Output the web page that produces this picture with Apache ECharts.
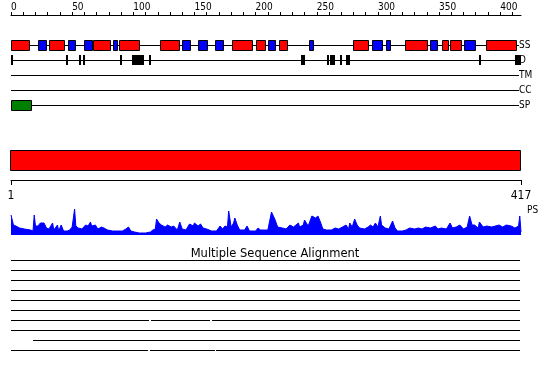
<!DOCTYPE html>
<html><head><meta charset="utf-8">
<script src="https://cdn.jsdelivr.net/npm/echarts@6/dist/echarts.min.js"></script>
<style>html,body{margin:0;padding:0;background:#fff}#c{width:550px;height:380px}</style>
</head><body><div id="c"></div>
<script>
// ---- data ----
const seqLength = 417;
const rulerTicks = [0,10,20,30,40,50,60,70,80,90,100,110,120,130,140,150,160,170,180,190,200,210,220,230,240,250,260,270,280,290,300,310,320,330,340,350,360,370,380,390,400,410];
const rulerLabels = [0,50,100,150,200,250,300,350,400];
const trackNames = ['SS','D','TM','CC','SP'];
const helices = [[0,15],[31,43],[67,81],[88,105],[122,137],[181,197],[200,208],[219,226],[280,292],[322,340],[352,357],[359,368],[388,413]];
const strands = [[22,29],[47,52],[60,66],[83,87],[140,146],[153,160],[167,173],[210,216],[244,247],[295,303],[307,310],[343,348],[370,379]];
const disorder = [[0,2],[45,47],[56,57],[59,60],[89,91],[99,109],[113,114],[237,240],[258,259],[261,265],[269,270],[274,277],[383,384],[412,417]];
const signalPeptide = [[0,16]];
const domainSpan = [[1,417]];
const bottomLabels = [1,417];
const psPos = [0,2,4,7,11,16,18,19,20,22,24,25,27,29,31,34,35,38,39,41,43,46,48,50,52,53,55,58,61,63,65,66,69,71,74,76,79,83,87,91,94,96,98,101,105,110,114,116,118,119,121,123,126,128,131,133,136,138,140,143,146,149,150,153,155,157,160,164,168,171,173,175,177,178,180,182,183,185,187,191,193,195,198,200,202,204,208,210,213,216,218,222,225,228,231,233,235,236,239,240,243,246,249,251,253,255,258,262,265,268,271,274,276,277,279,281,283,285,289,292,294,296,298,300,302,303,306,309,312,314,316,320,323,326,330,333,336,339,343,347,349,352,356,359,361,364,367,370,373,375,377,379,382,383,386,389,393,396,399,402,405,409,412,415,416,417];
const psVal = [20,10,9,7,6,5,4,20,9,9,12,13,12,7,6,12,5,10,4,10,4,4,5,8,26,9,7,6,10,9,13,9,10,6,8,7,5,4,4,4,6,8,4,3,2,2,3,5,6,16,12,10,8,10,8,9,5,13,6,5,11,9,12,9,11,7,6,4,4,9,6,9,8,24,8,12,17,10,5,5,9,4,4,4,7,5,5,5,23,15,8,7,6,10,8,10,12,8,10,15,9,19,17,19,13,6,5,5,7,6,8,10,6,12,8,16,10,7,6,8,10,8,12,8,19,10,7,6,14,7,4,4,5,7,6,7,6,8,7,9,6,7,6,12,7,8,10,6,8,19,10,10,7,13,8,9,8,9,10,8,10,9,7,9,19,3];
const msaRows = [0,1,2,3,4,5,6,7,8,9];
const msaSegments = [[0,0,416],[1,0,416],[2,0,416],[3,0,416],[4,0,416],[5,0,416],[6,0,113],[6,114.5,163],[6,164.5,416],[7,0,416],[8,18,416],[9,0,112],[9,113.5,166.5],[9,168,416]];

// ---- chart ----
const chart = echarts.init(document.getElementById('c'), null, {renderer: 'canvas'});
const FONT = 'DejaVu Sans';
const SMALL = '"DejaVu Sans Condensed", "DejaVu Sans"';
function boxRenderer(color, hPx, minW, stroke) {
  return function (params, api) {
    const p0 = api.coord([api.value(0), api.value(2)]);
    const p1 = api.coord([api.value(1), api.value(2)]);
    let x0 = Math.round(p0[0]), x1 = Math.round(p1[0]);
    if (x1 - x0 < minW) x1 = x0 + minW;
    const y0 = Math.round(p0[1] - hPx / 2);
    const o = stroke ? 0.5 : 0;
    return {type: 'rect', shape: {x: x0 + o, y: y0 + o, width: x1 - x0, height: hPx},
      style: {fill: color, stroke: stroke ? '#000' : null, lineWidth: 1}};
  };
}
function lineRenderer(params, api) {
  const p0 = api.coord([api.value(0), api.value(2)]);
  const p1 = api.coord([api.value(1), api.value(2)]);
  const y = Math.round(p0[1] - 0.5) + 0.5;
  return {type: 'line', shape: {x1: Math.round(p0[0]), y1: y, x2: Math.round(p1[0]), y2: y},
    style: {stroke: '#000', lineWidth: 1}};
}
const hiddenY = {show: false, splitLine: {show: false}};
const gridX = {left: 11, width: 510};
const option = {
  animation: false,
  backgroundColor: '#fff',
  textStyle: {fontFamily: FONT},
  title: {text: 'Multiple Sequence Alignment', left: 'center', top: 243,
    textStyle: {fontSize: 11.5, fontWeight: 'normal', color: '#000', fontFamily: FONT}},
  graphic: [{type: 'text', left: 527, top: 205, style: {text: 'PS', fontSize: 10, fill: '#000', fontFamily: SMALL}}],
  grid: [
    Object.assign({top: 15, height: 10}, gridX),
    Object.assign({top: 37.5, height: 75}, gridX),
    Object.assign({top: 150, height: 20}, gridX),
    Object.assign({top: 205, height: 30}, gridX),
    Object.assign({top: 255.5, height: 100}, gridX)
  ],
  xAxis: [
    {gridIndex: 0, type: 'value', position: 'top', min: 0, max: seqLength,
      axisLine: {show: true, onZero: false, lineStyle: {color: '#000', width: 1}},
      axisTick: {show: true, length: 3, customValues: rulerTicks, lineStyle: {color: '#000'}},
      axisLabel: {customValues: rulerLabels, align: 'left', margin: 3, fontSize: 10, color: '#000', fontFamily: SMALL},
      splitLine: {show: false}},
    {gridIndex: 1, type: 'value', min: 0, max: seqLength, show: false, splitLine: {show: false}},
    {gridIndex: 2, type: 'value', position: 'bottom', offset: 10, min: 1, max: seqLength,
      axisLine: {show: true, onZero: false, lineStyle: {color: '#000', width: 1}},
      axisTick: {show: true, length: 5, customValues: bottomLabels, lineStyle: {color: '#000'}},
      axisLabel: {customValues: bottomLabels, margin: 10, fontSize: 12, color: '#000', fontFamily: SMALL},
      splitLine: {show: false}},
    {gridIndex: 3, type: 'value', min: 0, max: seqLength, show: false, splitLine: {show: false}},
    {gridIndex: 4, type: 'value', min: 0, max: seqLength, show: false, splitLine: {show: false}}
  ],
  yAxis: [
    Object.assign({gridIndex: 0, type: 'value'}, hiddenY),
    {gridIndex: 1, type: 'category', data: trackNames, inverse: true, position: 'right',
      axisLine: {show: false}, axisTick: {show: false}, splitLine: {show: false},
      axisLabel: {margin: -2, fontSize: 10, color: '#000', fontFamily: SMALL}},
    Object.assign({gridIndex: 2, type: 'value', min: 0, max: 1}, hiddenY),
    Object.assign({gridIndex: 3, type: 'value', min: 0, max: 30}, hiddenY),
    Object.assign({gridIndex: 4, type: 'category', data: msaRows, inverse: true}, hiddenY)
  ],
  series: [
    {type: 'custom', xAxisIndex: 1, yAxisIndex: 1, renderItem: lineRenderer, encode: {x: [0, 1], y: 2},
      data: trackNames.map((n, i) => [0, seqLength - 1.5, i])},
    {type: 'custom', xAxisIndex: 1, yAxisIndex: 1, renderItem: boxRenderer('#ff0000', 10, 2, true), encode: {x: [0, 1], y: 2},
      data: helices.map(d => [d[0], d[1], 0])},
    {type: 'custom', xAxisIndex: 1, yAxisIndex: 1, renderItem: boxRenderer('#0000ff', 10, 2, true), encode: {x: [0, 1], y: 2},
      data: strands.map(d => [d[0], d[1], 0])},
    {type: 'custom', xAxisIndex: 1, yAxisIndex: 1, renderItem: boxRenderer('#000000', 10, 2, false), encode: {x: [0, 1], y: 2},
      data: disorder.map(d => [d[0], d[1], 1])},
    {type: 'custom', xAxisIndex: 1, yAxisIndex: 1, renderItem: boxRenderer('#008000', 10, 2, true), encode: {x: [0, 1], y: 2},
      data: signalPeptide.map(d => [d[0], d[1], 4])},
    {type: 'custom', xAxisIndex: 2, yAxisIndex: 2, encode: {x: [0, 1]},
      renderItem: function (params, api) {
        const p0 = api.coord([api.value(0), 1]);
        const p1 = api.coord([api.value(1), 0]);
        const x0 = Math.round(p0[0]), x1 = Math.round(p1[0]);
        const y0 = Math.round(p0[1]), y1 = Math.round(p1[1]);
        return {type: 'rect', shape: {x: x0 - 0.5, y: y0 + 0.5, width: x1 - x0, height: y1 - y0},
          style: {fill: '#ff0000', stroke: '#000', lineWidth: 1}};
      },
      data: domainSpan},
    {type: 'line', xAxisIndex: 3, yAxisIndex: 3, showSymbol: false, smooth: false,
      lineStyle: {color: '#0000ff', width: 1}, areaStyle: {color: '#0000ff', opacity: 1},
      data: psPos.map((p, i) => [p, psVal[i]])},
    {type: 'custom', xAxisIndex: 4, yAxisIndex: 4, renderItem: lineRenderer, encode: {x: [1, 2], y: 0},
      data: msaSegments.map(s => [s[1], s[2], s[0]])}
  ]
};
chart.setOption(option);
</script>
</body></html>
